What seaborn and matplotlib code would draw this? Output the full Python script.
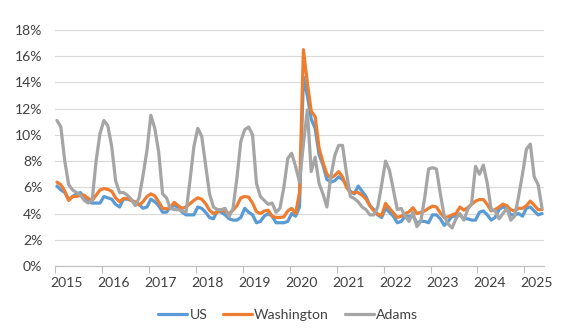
import numpy as np
import pandas as pd
import matplotlib
matplotlib.use("Agg")
import matplotlib.pyplot as plt
import seaborn as sns

# Monthly unemployment rate (%), Jan 2015 - May 2025
years = list(range(2015, 2026))
series_names = ["US", "Washington", "Adams"]

us = [
    6.1, 5.8, 5.6, 5.1, 5.3, 5.5, 5.6, 5.2, 4.9, 4.8, 4.8, 4.8,
    5.3, 5.2, 5.1, 4.7, 4.5, 5.1, 5.1, 5.0, 4.8, 4.7, 4.4, 4.5,
    5.1, 4.9, 4.6, 4.1, 4.1, 4.5, 4.6, 4.5, 4.1, 3.9, 3.9, 3.9,
    4.5, 4.4, 4.1, 3.7, 3.6, 4.2, 4.1, 3.9, 3.6, 3.5, 3.5, 3.7,
    4.4, 4.1, 3.9, 3.3, 3.4, 3.8, 4.0, 3.8, 3.3, 3.3, 3.3, 3.4,
    4.0, 3.8, 4.5, 14.4, 13.0, 11.2, 10.5, 8.5, 7.7, 6.6, 6.4, 6.5,
    6.8, 6.6, 6.2, 5.7, 5.5, 6.1, 5.7, 5.3, 4.6, 4.3, 3.9, 3.7,
    4.4, 4.1, 3.8, 3.3, 3.4, 3.8, 3.8, 3.8, 3.3, 3.4, 3.4, 3.3,
    3.9, 3.9, 3.6, 3.1, 3.4, 3.8, 3.8, 3.9, 3.6, 3.6, 3.5, 3.5,
    4.1, 4.2, 3.9, 3.5, 3.7, 4.3, 4.5, 4.4, 3.9, 3.9, 4.0, 3.8,
    4.4, 4.5, 4.2, 3.9, 4.0,
]

washington = [
    6.4, 6.2, 5.7, 5.0, 5.3, 5.3, 5.4, 5.4, 5.15, 5.0, 5.4, 5.8,
    5.9, 5.85, 5.7, 5.2, 4.9, 5.15, 5.15, 5.0, 4.9, 4.65, 4.9, 5.3,
    5.5, 5.35, 4.9, 4.4, 4.35, 4.5, 4.85, 4.6, 4.4, 4.5, 4.75, 5.0,
    5.2, 5.1, 4.75, 4.25, 4.0, 4.1, 4.3, 4.15, 4.0, 4.25, 4.6, 5.2,
    5.3, 5.25, 4.8, 4.15, 4.0, 4.2, 4.25, 3.8, 3.7, 3.7, 3.75, 4.2,
    4.4, 4.0, 5.6, 16.5, 14.0, 11.8, 11.4, 9.0, 7.9, 7.0, 6.7, 6.9,
    7.2, 6.8, 6.0, 5.6, 5.6, 5.6, 5.4, 5.1, 4.6, 4.2, 3.95, 3.85,
    4.77, 4.4, 4.05, 3.7, 3.8, 4.0, 4.13, 4.45, 4.0, 4.1, 4.2, 4.4,
    4.57, 4.5, 4.05, 3.7, 3.75, 3.9, 4.0, 4.5, 4.26, 4.45, 4.7, 4.95,
    5.07, 5.07, 4.7, 4.2, 4.3, 4.5, 4.72, 4.6, 4.3, 4.2, 4.4, 4.4,
    4.6, 4.95, 4.64, 4.3, 4.3,
]

adams = [
    11.1, 10.6, 8.0, 6.2, 5.8, 5.6, 5.4, 5.0, 4.8, 5.0, 8.0, 10.1,
    11.1, 10.7, 9.1, 6.5, 5.6, 5.6, 5.4, 5.1, 4.6, 5.2, 6.9, 8.8,
    11.5, 10.5, 8.7, 5.5, 5.2, 4.4, 4.3, 4.3, 4.2, 4.1, 6.5, 9.1,
    10.5, 9.9, 7.7, 5.5, 4.5, 4.3, 4.3, 4.4, 3.75, 4.4, 6.7, 9.5,
    10.4, 10.6, 10.0, 6.3, 5.3, 5.0, 4.7, 4.8, 4.1, 4.4, 6.0, 8.2,
    8.6, 7.6, 6.4, 9.3, 11.9, 7.2, 8.3, 6.3, 5.5, 4.5, 6.8, 8.4,
    9.2, 9.2, 7.1, 5.3, 5.15, 4.9, 4.5, 4.3, 3.9, 3.9, 4.5, 6.2,
    8.0, 7.3, 5.8, 4.3, 4.4, 3.8, 3.4, 4.1, 3.0, 3.4, 5.2, 7.4,
    7.5, 7.4, 5.5, 3.8, 3.2, 2.9, 3.6, 4.0, 3.5, 4.3, 4.8, 7.6,
    7.0, 7.7, 6.3, 4.3, 4.2, 3.6, 4.0, 4.4, 3.5, 3.8, 5.3, 7.0,
    8.9, 9.3, 6.8, 6.2, 4.4,
]

colors = ["#5B9BD5", "#ED7D31", "#A5A5A5"]

n = len(us)
month_pos = np.arange(n) + 0.5
df = pd.DataFrame({
    "month": np.tile(month_pos, 3),
    "rate": us + washington + adams,
    "series": np.repeat(series_names, n),
})

sns.set_theme(style="white")
plt.rcParams["font.family"] = ["Lato", "DejaVu Sans"]
text_color = "#404040"

W, H = 576, 336
fig = plt.figure(figsize=(W / 96, H / 96), dpi=96)
left, right, top, bottom = 55, 544, 30, 266
ax = fig.add_axes([left / W, 1 - bottom / H, (right - left) / W, (bottom - top) / H])

sns.lineplot(data=df, x="month", y="rate", hue="series", hue_order=series_names,
             palette=colors, linewidth=2.4, ax=ax, legend=True)

ax.set_xlim(0, n)
ax.set_ylim(0, 18)
yt = list(range(0, 19, 2))
ax.set_yticks(yt)
ax.set_yticklabels([f"{v}%" for v in yt])
ax.grid(axis="y", color="#D9D9D9", linewidth=0.9)
ax.grid(axis="x", visible=False)
ax.set_axisbelow(True)
for s in ["left", "right", "top"]:
    ax.spines[s].set_visible(False)
ax.spines["bottom"].set_color("#BFBFBF")
ax.spines["bottom"].set_linewidth(0.9)

ax.set_xticks([12 * k + 3 for k in range(len(years))])
ax.set_xticklabels([str(y) for y in years])
ax.set_xticks(range(0, n + 1), minor=True)
ax.tick_params(axis="x", which="major", length=0, pad=8, labelsize=10.5, labelcolor=text_color)
ax.tick_params(axis="x", which="minor", length=2.5, width=0.8, color="#BFBFBF", direction="out")
ax.tick_params(axis="y", length=0, pad=9.5, labelsize=10.5, labelcolor=text_color)

sec = ax.secondary_xaxis("bottom")
sec.set_xticks([12 * k for k in range(len(years))])
sec.tick_params(length=5, width=0.8, color="#BFBFBF", labelbottom=False)
sec.spines["bottom"].set_visible(False)

ax.set_xlabel("")
ax.set_ylabel("")

handles, labels = ax.get_legend_handles_labels()
ax.legend(handles, labels, loc="center", bbox_to_anchor=(0.5, 1 - 315 / H),
          bbox_transform=fig.transFigure, ncol=3, frameon=False,
          handlelength=2.1, handletextpad=0.15, columnspacing=1.1,
          fontsize=10.5, labelcolor=text_color)

fig.savefig("out.png", dpi=96)
